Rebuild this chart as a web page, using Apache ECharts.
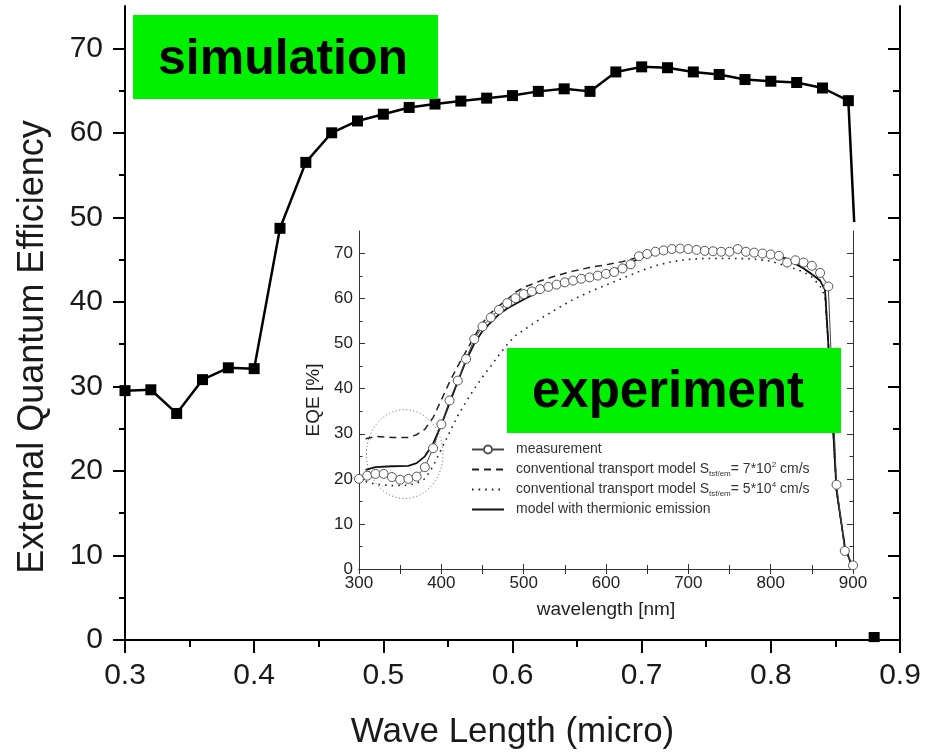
<!DOCTYPE html>
<html><head><meta charset="utf-8">
<script src="https://cdn.jsdelivr.net/npm/echarts@6/dist/echarts.min.js"></script>
<style>html,body{margin:0;padding:0;background:#fff}#c{width:925px;height:755px}</style>
</head><body><div id="c"></div>
<script>
// ---- main (simulation) data ----
const simX = [0.30,0.32,0.34,0.36,0.38,0.40,0.42,0.44,0.46,0.48,0.50,0.52,0.54,0.56,0.58,0.60,0.62,0.64,0.66,0.68,0.70,0.72,0.74,0.76,0.78,0.80,0.82,0.84,0.86,0.88];
const simY = [29.5,29.6,26.8,30.8,32.2,32.1,48.7,56.5,60.0,61.4,62.2,63.0,63.4,63.75,64.1,64.4,64.9,65.2,64.9,67.2,67.8,67.7,67.2,66.9,66.3,66.1,65.95,65.3,63.8,0.4];
const mainYTicks = [0,10,20,30,40,50,60,70];
const mainYMinor = [5,15,25,35,45,55,65];

// ---- inset (experiment) data ----
const measX = [300,310,320,330,340,350,360,370,380,390,400,410,420,430,440,450,460,470,480,490,500,510,520,530,540,550,560,570,580,590,600,610,620,630,640,650,660,670,680,690,700,710,720,730,740,750,760,770,780,790,800,810,820,830,840,850,860,870,880,890,900];
const measY = [20.0,20.7,21.1,21.1,20.4,19.8,20.0,20.5,22.6,26.8,32.1,37.4,41.8,46.6,51.0,53.8,55.8,57.5,59.0,60.1,61.0,61.6,62.1,62.6,63.1,63.6,64.0,64.4,64.7,65.1,65.5,65.9,66.7,67.6,69.4,69.9,70.4,70.7,71.0,71.1,71.0,70.8,70.6,70.5,70.4,70.4,71.0,70.4,70.2,70.0,69.8,69.5,68.0,68.5,68.0,67.3,65.7,62.7,18.7,4.0,0.8];
const modelX = [308,320,340,360,370,380,390,400,410,420,430,440,450,460,470,480,490,500,520,540,560,580,600,620,640,660,680,700,720,740,760,780,800,820,840,850,860,866,870,880,890,900];
const thermY = [22.0,22.6,22.8,22.9,23.5,25.0,27.8,32.0,36.8,41.6,46.2,50.0,52.8,54.7,56.5,57.8,58.8,59.8,61.7,63.4,64.4,65.1,65.9,67.0,68.9,70.0,70.7,71.0,71.0,70.8,70.6,70.4,69.9,68.8,66.7,65.4,64.0,62.0,50.0,17.5,5.0,0.0];
const conv2Y = [28.9,29.4,29.2,29.2,29.8,31.0,33.6,37.5,41.5,45.0,48.3,51.6,54.6,56.8,58.4,59.8,61.4,62.5,63.9,65.1,66.1,66.9,67.5,68.2,69.2,70.1,70.7,71.0,71.0,70.8,70.6,70.4,69.9,68.8,66.7,65.4,64.0,62.0,50.0,17.5,5.0,0.0];
const conv4Y = [19.4,18.8,18.5,18.6,19.0,20.0,22.8,26.6,30.3,34.0,37.1,40.0,42.6,45.0,47.5,49.8,51.8,53.0,55.5,57.7,59.8,61.5,63.0,64.5,66.0,67.3,68.2,68.7,68.9,68.9,68.9,68.8,68.3,67.2,65.9,64.8,62.8,60.5,50.0,17.0,5.0,0.0];
const insetYTicks = [0,10,20,30,40,50,60,70];
const insetYMinor = [5,15,25,35,45,55,65];
// highlighted region (center wavelength, center EQE, half-width nm, half-height %)
const highlight = [[355.5, 25.5, 46.5, 9.85]];

const seriesNames = ['measurement','conv 7e2','conv 5e4','model with thermionic emission'];
const legendLabels = {
  'measurement': 'measurement',
  'conv 7e2': 'conventional transport model S{sub|tsf/em}= 7*10{sup|2} cm/s',
  'conv 5e4': 'conventional transport model S{sub|tsf/em}= 5*10{sup|4} cm/s',
  'model with thermionic emission': 'model with thermionic emission'
};

const pairs = (xs, ys) => xs.map((x, i) => [x, ys[i]]);
const FONT = 'Liberation Sans, Arial, sans-serif';
const MAINC = '#1a1a1a';

const chart = echarts.init(document.getElementById('c'), null, {renderer: 'canvas'});

const mainAxisLine = {show: true, lineStyle: {color: '#000', width: 2}};
const insetAxisLine = {show: true, lineStyle: {color: '#333', width: 1}};

function boxText(text, x, y, size) {
  return {type: 'text', z: 11, silent: true,
    style: {text: text, x: x, y: y, align: 'center', verticalAlign: 'middle',
      textAlign: 'center', textVerticalAlign: 'middle',
      fontSize: size, fontWeight: 'bold', fontFamily: FONT, fill: '#000',
      textShadowColor: '#fff', textShadowOffsetX: 2, textShadowOffsetY: 2, textShadowBlur: 0}};
}

const option = {
  backgroundColor: '#fff',
  animation: false,
  textStyle: {fontFamily: FONT},
  grid: [
    {left: 125, right: 25, top: 6, bottom: 113},
    {left: 359, right: 72, top: 231, bottom: 186}
  ],
  xAxis: [
    {gridIndex: 0, type: 'value', position: 'bottom', min: 0.3, max: 0.9, interval: 0.1,
     axisLine: mainAxisLine,
     axisTick: {length: 12, lineStyle: {color: '#000', width: 2}},
     minorTick: {show: true, splitNumber: 2, length: 6, lineStyle: {color: '#000', width: 2}},
     axisLabel: {fontSize: 30, color: MAINC, margin: 21, fontFamily: FONT},
     splitLine: {show: false},
     name: 'Wave Length (micro)', nameLocation: 'middle', nameGap: 75,
     nameTextStyle: {fontSize: 35, color: MAINC, fontFamily: FONT}},
    {gridIndex: 0, type: 'value', position: 'top', min: 0.3, max: 0.9, interval: 0.1,
     axisLine: mainAxisLine,
     axisTick: {inside: true, length: 13, lineStyle: {color: '#000', width: 2}},
     minorTick: {show: true, splitNumber: 2, length: 7, lineStyle: {color: '#000', width: 2}},
     axisLabel: {show: false}, splitLine: {show: false}},
    {gridIndex: 1, type: 'value', position: 'bottom', min: 300, max: 900, interval: 100, z: 5,
     axisLine: insetAxisLine,
     axisTick: {inside: true, length: 5, lineStyle: {color: '#333'}},
     minorTick: {show: true, splitNumber: 2, length: 4, lineStyle: {color: '#333'}},
     axisLabel: {fontSize: 17, color: '#222', margin: 6, fontFamily: FONT},
     splitLine: {show: false},
     name: 'wavelength [nm]', nameLocation: 'middle', nameGap: 31,
     nameTextStyle: {fontSize: 19, color: '#222', fontFamily: FONT}},
    {gridIndex: 1, type: 'value', position: 'top', min: 300, max: 900, interval: 100, z: 5,
     axisLine: insetAxisLine,
     axisTick: {inside: true, length: 5, lineStyle: {color: '#333'}},
     minorTick: {show: true, splitNumber: 2, length: 5, lineStyle: {color: '#333'}},
     axisLabel: {show: false}, splitLine: {show: false}}
  ],
  yAxis: [
    {gridIndex: 0, type: 'value', position: 'left', min: 0, max: 75,
     axisLine: mainAxisLine,
     axisTick: {length: 12, customValues: mainYTicks, lineStyle: {color: '#000', width: 2}},
     axisLabel: {customValues: mainYTicks, fontSize: 30, color: MAINC, margin: 22, fontFamily: FONT},
     splitLine: {show: false},
     name: 'External Quantum Efficiency', nameLocation: 'middle', nameGap: 74,
     nameTextStyle: {fontSize: 36, color: MAINC, fontFamily: FONT, padding: [0, 48, 0, 0]}},
    {gridIndex: 0, type: 'value', position: 'left', min: 0, max: 75,
     axisLine: {show: false},
     axisTick: {length: 6, customValues: mainYMinor, lineStyle: {color: '#000', width: 2}},
     axisLabel: {show: false}, splitLine: {show: false}},
    {gridIndex: 0, type: 'value', position: 'right', min: 0, max: 75,
     axisLine: mainAxisLine,
     axisTick: {inside: true, length: 12, customValues: mainYTicks, lineStyle: {color: '#000', width: 2}},
     axisLabel: {show: false}, splitLine: {show: false}},
    {gridIndex: 0, type: 'value', position: 'right', min: 0, max: 75,
     axisLine: {show: false},
     axisTick: {inside: true, length: 7, customValues: mainYMinor, lineStyle: {color: '#000', width: 2}},
     axisLabel: {show: false}, splitLine: {show: false}},
    {gridIndex: 1, type: 'value', position: 'left', min: 0, max: 75, z: 5,
     axisLine: insetAxisLine,
     axisTick: {inside: true, length: 6, customValues: insetYTicks, lineStyle: {color: '#333'}},
     axisLabel: {customValues: insetYTicks, fontSize: 17, color: '#222', margin: 6, fontFamily: FONT},
     splitLine: {show: false},
     name: 'EQE [%]', nameLocation: 'middle', nameGap: 33,
     nameTextStyle: {fontSize: 19, color: '#222', fontFamily: FONT}},
    {gridIndex: 1, type: 'value', position: 'left', min: 0, max: 75, z: 5,
     axisLine: {show: false},
     axisTick: {inside: true, length: 3.5, customValues: insetYMinor, lineStyle: {color: '#333'}},
     axisLabel: {show: false}, splitLine: {show: false}},
    {gridIndex: 1, type: 'value', position: 'right', min: 0, max: 75, z: 5,
     axisLine: insetAxisLine,
     axisTick: {inside: true, length: 6, customValues: insetYTicks, lineStyle: {color: '#333'}},
     axisLabel: {show: false}, splitLine: {show: false}},
    {gridIndex: 1, type: 'value', position: 'right', min: 0, max: 75, z: 5,
     axisLine: {show: false},
     axisTick: {inside: true, length: 3.5, customValues: insetYMinor, lineStyle: {color: '#333'}},
     axisLabel: {show: false}, splitLine: {show: false}}
  ],
  legend: {
    data: seriesNames.map((n) => n === 'measurement' ? {name: n} : {name: n, itemStyle: {opacity: 0}}),
    orient: 'vertical', align: 'left', left: 466, top: 436, itemGap: 3,
    itemWidth: 32, itemHeight: 10, selectedMode: false, z: 7,
    formatter: (n) => legendLabels[n],
    textStyle: {fontSize: 14, color: '#333', fontFamily: FONT, lineHeight: 17, padding: [0, 0, 0, 7],
      rich: {
        sub: {fontSize: 8, lineHeight: 8, verticalAlign: 'bottom', color: '#333', fontFamily: FONT},
        sup: {fontSize: 8, lineHeight: 8, verticalAlign: 'top', color: '#333', fontFamily: FONT}
      }}
  },
  graphic: [
    {type: 'rect', z: 3, silent: true, shape: {x: 303, y: 222, width: 582, height: 410}, style: {fill: '#fff'}},
    {type: 'rect', z: 10, silent: true, shape: {x: 133, y: 15, width: 305, height: 84}, style: {fill: '#00f000'}},
    boxText('simulation', 283, 60, 50),
    {type: 'rect', z: 10, silent: true, shape: {x: 507, y: 348, width: 334, height: 85}, style: {fill: '#00f000'}},
    boxText('experiment', 668, 393, 51)
  ],
  series: [
    {name: 'simulation', type: 'line', xAxisIndex: 0, yAxisIndex: 0, z: 2,
     data: pairs(simX, simY), symbol: 'rect', symbolSize: 11,
     itemStyle: {color: '#000'}, lineStyle: {color: '#000', width: 2.5}},
    {name: 'highlight', type: 'custom', xAxisIndex: 2, yAxisIndex: 4, z: 6, silent: true,
     data: highlight,
     renderItem: (params, api) => {
       const c = api.coord([api.value(0), api.value(1)]);
       const s = api.size([api.value(2), api.value(3)]);
       return {type: 'ellipse', shape: {cx: c[0], cy: c[1], rx: s[0], ry: s[1]},
         style: {fill: 'none', stroke: '#666', lineWidth: 1, lineDash: [1, 2.5]}};
     }},
    {name: 'conv 5e4', type: 'line', xAxisIndex: 2, yAxisIndex: 4, z: 6,
     data: pairs(modelX, conv4Y), symbol: 'none',
     lineStyle: {color: '#222', width: 1.6, type: [1.6, 5]}, itemStyle: {color: '#222'}},
    {name: 'conv 7e2', type: 'line', xAxisIndex: 2, yAxisIndex: 4, z: 6,
     data: pairs(modelX, conv2Y), symbol: 'none',
     lineStyle: {color: '#222', width: 1.5, type: [7, 5]}, itemStyle: {color: '#222'}},
    {name: 'model with thermionic emission', type: 'line', xAxisIndex: 2, yAxisIndex: 4, z: 6,
     data: pairs(modelX, thermY), symbol: 'none',
     lineStyle: {color: '#111', width: 1.8}, itemStyle: {color: '#111'}},
    {name: 'measurement', type: 'line', xAxisIndex: 2, yAxisIndex: 4, z: 6,
     data: pairs(measX, measY), symbol: 'circle', symbolSize: 9,
     lineStyle: {color: '#444', width: 1},
     itemStyle: {color: '#fff', borderColor: '#555', borderWidth: 1}}
  ]
};
chart.setOption(option);
</script>
</body></html>
